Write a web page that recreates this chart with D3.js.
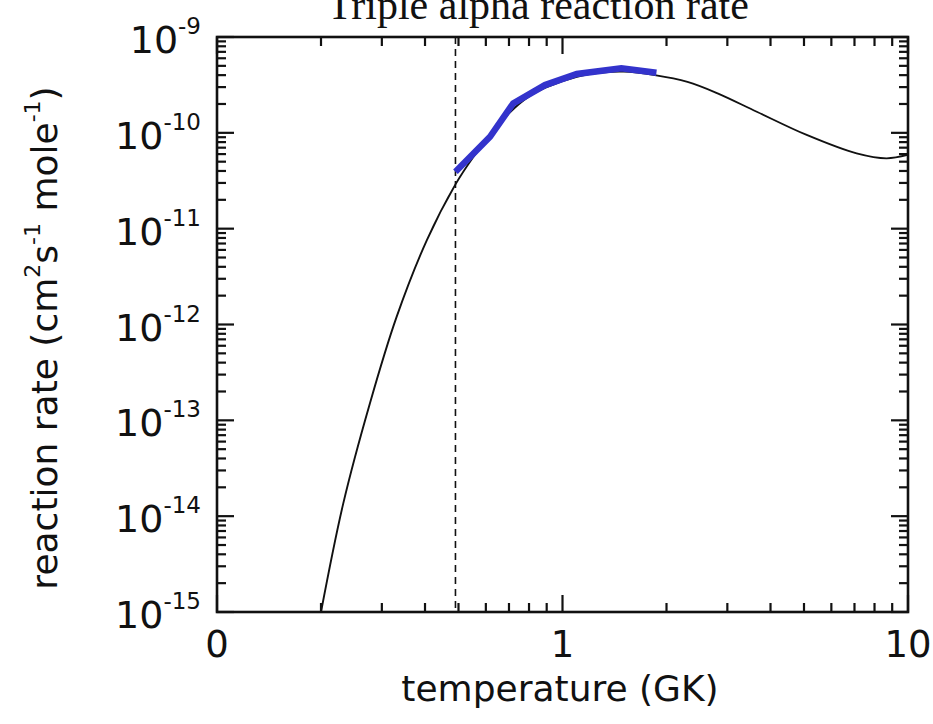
<!DOCTYPE html>
<html>
<head>
<meta charset="utf-8">
<script src="https://cdn.jsdelivr.net/npm/d3@7"></script>
<style>
  body { margin: 0; background: #fff; }
  svg { display: block; }
</style>
</head>
<body>
<svg width="933" height="724"></svg>
<script>
/* data */
var titleText = "Triple alpha reaction rate";
var xTitle = "temperature (GK)";

// black curve: full rate
var tempAll = [0.2, 0.232, 0.277, 0.331, 0.405, 0.49, 0.55, 0.6, 0.7, 0.8, 0.9, 1.1, 1.3, 1.5, 1.85, 2.3, 2.8, 3.65, 5.09, 7.1, 8.67, 10];
var rateAll = [1.0e-15, 1.36e-14, 1.5e-13, 1.2e-12, 7.6e-12, 2.9e-11, 5.5e-11, 8.3e-11, 1.6e-10, 2.4e-10, 3.0e-10, 3.85e-10, 4.25e-10, 4.35e-10, 4.0e-10, 3.4e-10, 2.6e-10, 1.66e-10, 9.5e-11, 6.1e-11, 5.42e-11, 5.9e-11];

// blue segment
var tempSeg = [0.49, 0.617, 0.72, 0.89, 1.1, 1.48, 1.87];
var rateSeg = [3.93e-11, 9.1e-11, 2.03e-10, 3.15e-10, 4.11e-10, 4.71e-10, 4.24e-10];

var markerTemp = 0.49;

var xTicks = [0.1, 1, 10];
var xTickLabels = ["0", "1", "10"];
var yExponents = [-9, -10, -11, -12, -13, -14, -15];

/* layout */
var L = 217, R = 908, T = 37, B = 612;
var majorLen = 17, minorLen = 9;
var fontSans = "DejaVu Sans, sans-serif";

var svg = d3.select("svg");

var x = d3.scaleLog().domain([0.1, 10]).range([L, R]);
var y = d3.scaleLog().domain([1e-15, 1e-9]).range([B, T]);

svg.append("defs").append("clipPath").attr("id", "clip")
  .append("rect").attr("x", L).attr("y", T).attr("width", R - L).attr("height", B - T);

// minor tick values
var xMinor = [];
[0.1, 1].forEach(function(d) { for (var k = 2; k <= 9; k++) xMinor.push(d * k); });
var yMinor = [];
yExponents.slice(1).forEach(function(e) { for (var k = 2; k <= 9; k++) yMinor.push(k * Math.pow(10, e)); });

var ticks = svg.append("g").attr("stroke", "#111").attr("stroke-width", 2.2);

// x ticks, bottom and top
xMinor.forEach(function(d) {
  ticks.append("line").attr("x1", x(d)).attr("x2", x(d)).attr("y1", B).attr("y2", B - minorLen);
  ticks.append("line").attr("x1", x(d)).attr("x2", x(d)).attr("y1", T).attr("y2", T + minorLen);
});
xTicks.forEach(function(d) {
  ticks.append("line").attr("x1", x(d)).attr("x2", x(d)).attr("y1", B).attr("y2", B - majorLen);
  ticks.append("line").attr("x1", x(d)).attr("x2", x(d)).attr("y1", T).attr("y2", T + majorLen);
});
// y ticks, left and right
yMinor.forEach(function(d) {
  ticks.append("line").attr("x1", L).attr("x2", L + minorLen).attr("y1", y(d)).attr("y2", y(d));
  ticks.append("line").attr("x1", R).attr("x2", R - minorLen).attr("y1", y(d)).attr("y2", y(d));
});
yExponents.forEach(function(e) {
  var v = Math.pow(10, e);
  ticks.append("line").attr("x1", L).attr("x2", L + majorLen).attr("y1", y(v)).attr("y2", y(v));
  ticks.append("line").attr("x1", R).attr("x2", R - majorLen).attr("y1", y(v)).attr("y2", y(v));
});

// frame
svg.append("rect").attr("x", L).attr("y", T).attr("width", R - L).attr("height", B - T)
  .attr("fill", "none").attr("stroke", "#111").attr("stroke-width", 2.6);

// dashed marker
svg.append("line")
  .attr("x1", x(markerTemp)).attr("x2", x(markerTemp))
  .attr("y1", T).attr("y2", B)
  .attr("stroke", "#111").attr("stroke-width", 1.6)
  .attr("stroke-dasharray", "7,5");

var line = d3.line()
  .x(function(d) { return x(d[0]); })
  .y(function(d) { return y(d[1]); });

svg.append("path")
  .attr("clip-path", "url(#clip)")
  .attr("d", line.curve(d3.curveCatmullRom)(d3.zip(tempAll, rateAll)))
  .attr("fill", "none").attr("stroke", "#111").attr("stroke-width", 1.9);

svg.append("path")
  .attr("d", line.curve(d3.curveLinear)(d3.zip(tempSeg, rateSeg)))
  .attr("fill", "none").attr("stroke", "#3333cc").attr("stroke-width", 6.5)
  .attr("stroke-linejoin", "miter");

// x tick labels
xTicks.forEach(function(d, i) {
  svg.append("text")
    .attr("x", x(d)).attr("y", 657)
    .attr("text-anchor", "middle")
    .attr("font-family", fontSans).attr("font-size", 37)
    .attr("fill", "#111")
    .text(xTickLabels[i]);
});

// y tick labels  10^e
yExponents.forEach(function(e) {
  var t = svg.append("text")
    .attr("x", 201).attr("y", y(Math.pow(10, e)) + 16)
    .attr("text-anchor", "end")
    .attr("font-family", fontSans).attr("font-size", 38)
    .attr("fill", "#111");
  t.append("tspan").text("10");
  t.append("tspan").attr("dy", -19).attr("font-size", 23).text(String(e));
});

// axis titles
svg.append("text")
  .attr("x", 560).attr("y", 701)
  .attr("text-anchor", "middle")
  .attr("font-family", fontSans).attr("font-size", 36)
  .attr("fill", "#111")
  .text(xTitle);

var yt = svg.append("text")
  .attr("transform", "translate(57," + 338 + ") rotate(-90)")
  .attr("text-anchor", "middle")
  .attr("font-family", fontSans).attr("font-size", 36)
  .attr("fill", "#111");
yt.append("tspan").text("reaction rate (cm");
yt.append("tspan").attr("dy", -17).attr("font-size", 22).text("2");
yt.append("tspan").attr("dy", 17).text("s");
yt.append("tspan").attr("dy", -17).attr("font-size", 22).text("-1");
yt.append("tspan").attr("dy", 17).text(" mole");
yt.append("tspan").attr("dy", -17).attr("font-size", 22).text("-1");
yt.append("tspan").attr("dy", 17).text(")");

// title, cut off at the top like the original
svg.append("text")
  .attr("x", 538).attr("y", 19)
  .attr("text-anchor", "middle")
  .attr("font-family", "Liberation Serif, serif").attr("font-size", 42)
  .attr("fill", "#111")
  .text(titleText);
</script>
</body>
</html>
